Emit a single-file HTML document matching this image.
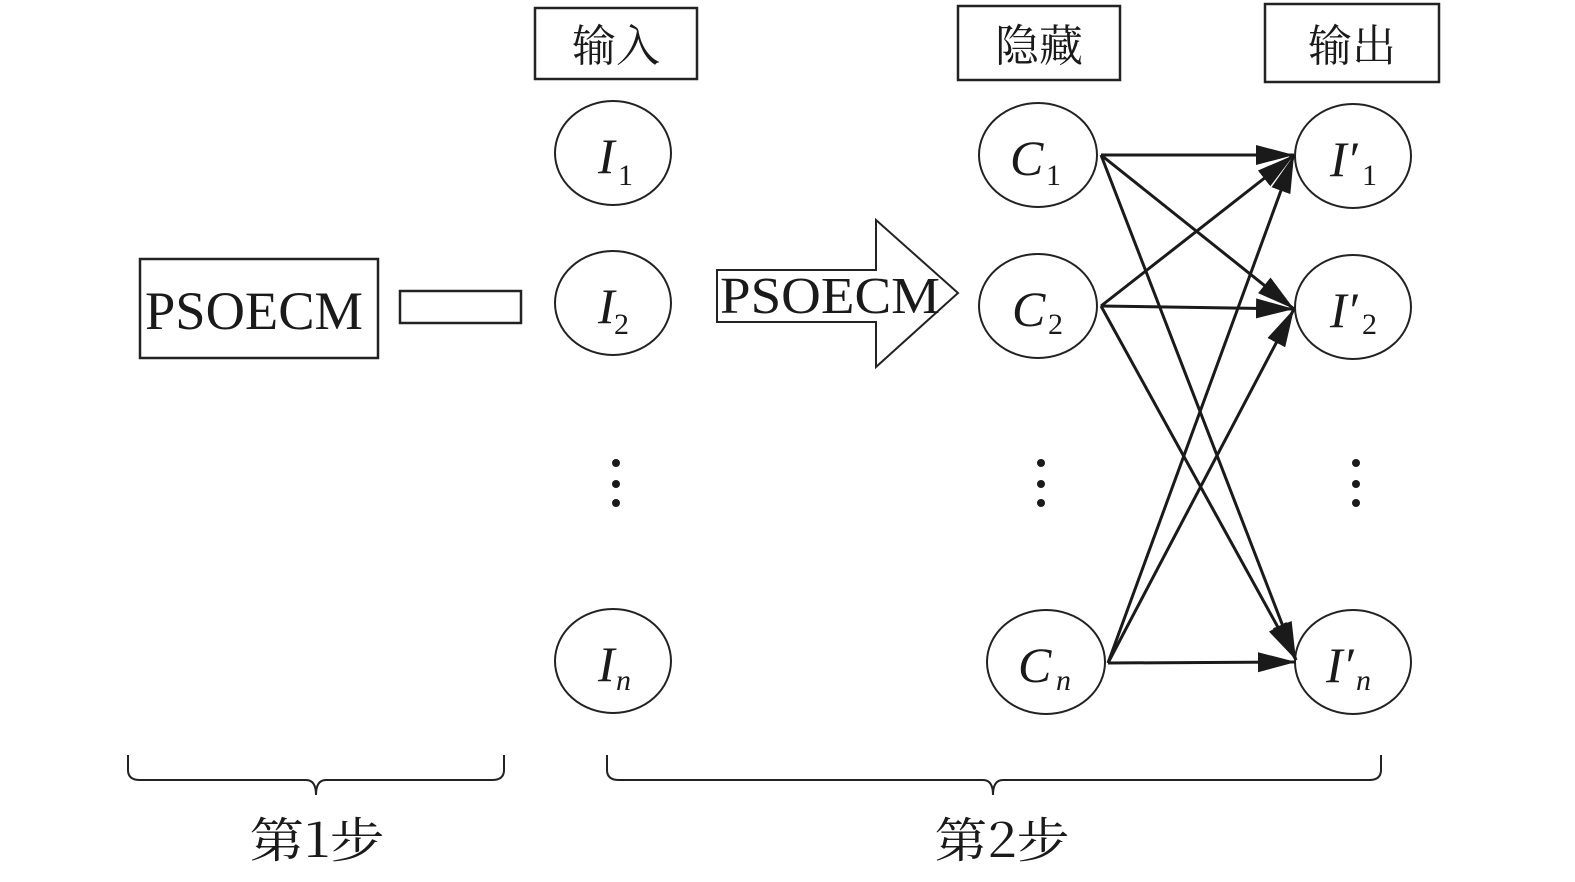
<!DOCTYPE html>
<html><head><meta charset="utf-8"><style>
html,body{margin:0;padding:0;background:#fff;}
svg{display:block;}
.t{font-family:"Liberation Serif","Noto Serif CJK SC",serif;fill:#1a1a1a;}
.c{font-family:"Noto Serif CJK SC","Noto Sans CJK SC",serif;fill:#1a1a1a;}
</style></head><body>
<svg width="1575" height="882" viewBox="0 0 1575 882" xmlns="http://www.w3.org/2000/svg">
<defs>
<marker id="ah" markerWidth="40" markerHeight="24" refX="38" refY="12" orient="auto" markerUnits="userSpaceOnUse">
<path d="M0,2 L38,12 L0,22 Z" fill="#1a1a1a"/>
</marker>
</defs>
<g fill="none" stroke="#222" stroke-width="2.5">
<rect x="535" y="8" width="162" height="71"/>
<rect x="958" y="6" width="162" height="74"/>
<rect x="1265" y="4" width="174" height="78"/>
<rect x="140" y="259" width="238" height="99"/>
<rect x="400" y="291" width="121" height="32"/>
<path d="M717,270 L876,270 L876,220 L958,293 L876,367 L876,322 L717,322 Z" stroke-width="2"/>
</g>
<g fill="none" stroke="#222" stroke-width="2">
<ellipse cx="613" cy="153" rx="58" ry="52"/>
<ellipse cx="613" cy="303" rx="58" ry="52"/>
<ellipse cx="613" cy="661" rx="58" ry="52"/>
<ellipse cx="1038" cy="155" rx="59" ry="52"/>
<ellipse cx="1038" cy="306" rx="59" ry="52"/>
<ellipse cx="1046" cy="662" rx="59" ry="52"/>
<ellipse cx="1353" cy="156" rx="58" ry="52"/>
<ellipse cx="1353" cy="307" rx="58" ry="52"/>
<ellipse cx="1353" cy="662" rx="58" ry="52"/>
</g>
<g stroke="#1a1a1a" stroke-width="3" marker-end="url(#ah)">
<line x1="1101" y1="155" x2="1294" y2="155"/>
<line x1="1101" y1="155" x2="1294" y2="309"/>
<line x1="1101" y1="155" x2="1296" y2="660"/>
<line x1="1101" y1="306" x2="1294" y2="155"/>
<line x1="1101" y1="306" x2="1294" y2="309"/>
<line x1="1101" y1="306" x2="1296" y2="660"/>
<line x1="1108" y1="663" x2="1294" y2="155"/>
<line x1="1108" y1="663" x2="1294" y2="309"/>
<line x1="1108" y1="663" x2="1296" y2="662"/>
</g>
<g fill="#1a1a1a">
<circle cx="616" cy="463" r="4"/><circle cx="616" cy="484" r="4"/><circle cx="616" cy="503" r="4"/>
<circle cx="1041" cy="463" r="4"/><circle cx="1041" cy="484" r="4"/><circle cx="1041" cy="503" r="4"/>
<circle cx="1356" cy="463" r="4"/><circle cx="1356" cy="484" r="4"/><circle cx="1356" cy="503" r="4"/>
</g>
<g fill="none" stroke="#222" stroke-width="2">
<path d="M128,755 L128,770 Q128,780 140,780 L306,780 Q316,780 316,795 Q316,780 326,780 L492,780 Q504,780 504,770 L504,755"/>
<path d="M607,755 L607,770 Q607,780 619,780 L983,780 Q993,780 993,795 Q993,780 1003,780 L1369,780 Q1381,780 1381,770 L1381,755"/>
</g>
<text class="c" x="616" y="61" font-size="44" text-anchor="middle">输入</text>
<text class="c" x="1039" y="61" font-size="44" text-anchor="middle">隐藏</text>
<text class="c" x="1352" y="61" font-size="44" text-anchor="middle">输出</text>
<text class="t" x="254" y="329" font-size="54" text-anchor="middle" textLength="218" lengthAdjust="spacingAndGlyphs">PSOECM</text>
<text class="t" x="720" y="313" font-size="52" textLength="220" lengthAdjust="spacingAndGlyphs">PSOECM</text>
<g class="t" font-style="italic" font-size="50">
<text x="598" y="173">I</text><text x="598" y="323">I</text><text x="598" y="681">I</text>
<text x="1010" y="175">C</text><text x="1012" y="326">C</text><text x="1018" y="682">C</text>
<text x="1330" y="176">I′</text><text x="1330" y="327">I′</text><text x="1326" y="682">I′</text>
</g>
<g class="t" font-size="30">
<text x="618" y="185">1</text><text x="614" y="334">2</text>
<text x="1046" y="185">1</text><text x="1048" y="334">2</text>
<text x="1362" y="185">1</text><text x="1362" y="334">2</text>
</g>
<g class="t" font-size="30" font-style="italic">
<text x="616" y="690">n</text><text x="1056" y="690">n</text><text x="1356" y="690">n</text>
</g>
<text class="c" x="317" y="857" font-size="48" text-anchor="middle" textLength="135" lengthAdjust="spacingAndGlyphs">第1步</text>
<text class="c" x="1002" y="857" font-size="48" text-anchor="middle" textLength="135" lengthAdjust="spacingAndGlyphs">第2步</text>
</svg>
</body></html>
